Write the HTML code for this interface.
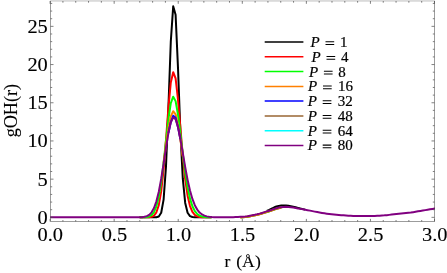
<!DOCTYPE html><html><head><meta charset="utf-8"><style>html,body{margin:0;padding:0;background:#fff}svg{display:block}text{font-family:"Liberation Serif",serif;fill:#000}</style></head><body>
<svg style="will-change:transform" width="447" height="273" viewBox="0 0 447 273">
<rect width="447" height="273" fill="#fff"/>
<rect x="50.10" y="0" width="384.80" height="1.8" fill="#dadada"/>
<defs><clipPath id="c"><rect x="50.10" y="0.00" width="384.90" height="221.50"/></clipPath></defs>
<g clip-path="url(#c)" fill="none" stroke-width="2" stroke-linejoin="round">
<path stroke="#000000" d="M139.60,217.35L142.00,217.35L144.40,217.35L146.80,217.35L149.20,217.35L151.60,217.35L154.00,217.34L156.40,217.22L158.80,216.46L161.20,212.74L163.60,199.62L166.00,166.37L168.40,107.81L170.80,41.48L173.20,6.36L175.60,14.70L178.00,67.87L180.40,132.30L182.80,178.70L185.20,202.89L187.60,212.78L190.00,216.10L192.40,217.05L194.80,217.28L197.20,217.34L199.60,217.35L202.00,217.35L204.40,217.35L206.80,217.35L209.20,217.35L211.60,217.35M266.80,210.90L269.20,209.94L271.60,208.76L274.00,207.53L276.40,206.51L278.80,205.93L281.20,205.57L283.60,205.43L286.00,205.56L288.40,205.85L290.80,206.24L293.20,206.67L295.60,207.19L298.00,207.88L300.40,208.52L302.80,209.10L305.20,209.65"/>
<path stroke="#ff0000" d="M139.60,217.35L142.00,217.35L144.40,217.34L146.80,217.31L149.20,217.19L151.60,216.78L154.00,215.53L156.40,212.29L158.80,205.09L161.20,191.38L163.60,169.32L166.00,139.76L168.40,107.88L170.80,82.47L173.20,72.21L175.60,78.45L178.00,99.44L180.40,127.89L182.80,156.17L185.20,179.33L187.60,195.73L190.00,206.02L192.40,211.84L194.80,214.85L197.20,216.29L199.60,216.92L202.00,217.19L204.40,217.29L206.80,217.33L209.20,217.34L211.60,217.35M240.40,217.43L242.80,217.28L245.20,217.04L247.60,216.71L250.00,216.31L252.40,215.86L254.80,215.39L257.20,214.85L259.60,214.21L262.00,213.49L264.40,212.74L266.80,211.99L269.20,211.26L271.60,210.44L274.00,209.59L276.40,208.80L278.80,208.17L281.20,207.78"/>
<path stroke="#00ff00" d="M139.60,217.34L142.00,217.32L144.40,217.24L146.80,217.01L149.20,216.41L151.60,215.00L154.00,212.03L156.40,206.36L158.80,196.74L161.20,182.22L163.60,162.92L166.00,140.70L168.40,119.24L170.80,103.22L173.20,96.68L175.60,101.13L178.00,114.66L180.40,133.57L182.80,153.86L185.20,172.41L187.60,187.48L190.00,198.62L192.40,206.23L194.80,211.06L197.20,213.96L199.60,215.60L202.00,216.48L204.40,216.93L206.80,217.16L209.20,217.26L211.60,217.31M240.40,217.36L242.80,217.20L245.20,216.96L247.60,216.64L250.00,216.24L252.40,215.79L254.80,215.31L257.20,214.78L259.60,214.13L262.00,213.41L264.40,212.66L266.80,211.92L269.20,211.19L271.60,210.36L274.00,209.51L276.40,208.72L278.80,208.09L281.20,207.71"/>
<path stroke="#ff8000" d="M163.60,162.95L166.00,145.01L168.40,128.43L170.80,116.31L173.20,111.22L175.60,114.35L178.00,124.72L180.40,139.70L182.80,156.33M240.40,217.28L242.80,217.12L245.20,216.89L247.60,216.56L250.00,216.16L252.40,215.71L254.80,215.24L257.20,214.70L259.60,214.06L262.00,213.34L264.40,212.59L266.80,211.84L269.20,211.11L271.60,210.29L274.00,209.43L276.40,208.65L278.80,208.01L281.20,207.63"/>
<path stroke="#0000ff" d="M168.40,133.09L170.80,122.29L173.20,115.74L175.60,117.80L178.00,127.13L180.40,139.06"/>
<path stroke="#996633" d=""/>
<path stroke="#00ffff" d=""/>
<path stroke="#800080" d="M48.40,217.35L50.80,217.35L53.20,217.35L55.60,217.35L58.00,217.35L60.40,217.35L62.80,217.35L65.20,217.35L67.60,217.35L70.00,217.35L72.40,217.35L74.80,217.35L77.20,217.35L79.60,217.35L82.00,217.35L84.40,217.35L86.80,217.35L89.20,217.35L91.60,217.35L94.00,217.35L96.40,217.35L98.80,217.35L101.20,217.35L103.60,217.35L106.00,217.35L108.40,217.35L110.80,217.35L113.20,217.35L115.60,217.35L118.00,217.35L120.40,217.35L122.80,217.35L125.20,217.35L127.60,217.35L130.00,217.35L132.40,217.35L134.80,217.34L137.20,217.32L139.60,217.27L142.00,217.14L144.40,216.83L146.80,216.16L149.20,214.82L151.60,212.33L154.00,208.07L156.40,201.36L158.80,191.67L161.20,178.93L163.60,163.78L166.00,147.75L168.40,133.09L170.80,122.29L173.20,117.42L175.60,119.32L178.00,127.13L180.40,139.06L182.80,153.01L185.20,167.07L187.60,179.85L190.00,190.55L192.40,198.95L194.80,205.17L197.20,209.56L199.60,212.52L202.00,214.44L204.40,215.64L206.80,216.37L209.20,216.80L211.60,217.05L214.00,217.19L216.40,217.26L218.80,217.30L221.20,217.32L223.60,217.31L226.00,217.30L228.40,217.28L230.80,217.25L233.20,217.19L235.60,217.11L238.00,216.99L240.40,216.86L242.80,216.70L245.20,216.47L247.60,216.14L250.00,215.74L252.40,215.29L254.80,214.82L257.20,214.28L259.60,213.64L262.00,212.92L264.40,212.17L266.80,211.42L269.20,210.69L271.60,209.87L274.00,209.01L276.40,208.22L278.80,207.59L281.20,207.21L283.60,206.95L286.00,206.85L288.40,206.97L290.80,207.26L293.20,207.60L295.60,207.97L298.00,208.42L300.40,208.87L302.80,209.30L305.20,209.73L307.60,210.17L310.00,210.64L312.40,211.13L314.80,211.61L317.20,212.07L319.60,212.49L322.00,212.90L324.40,213.31L326.80,213.69L329.20,214.03L331.60,214.33L334.00,214.58L336.40,214.81L338.80,215.02L341.20,215.21L343.60,215.37L346.00,215.51L348.40,215.65L350.80,215.78L353.20,215.88L355.60,215.95L358.00,215.97L360.40,215.97L362.80,215.97L365.20,215.97L367.60,215.97L370.00,215.97L372.40,215.96L374.80,215.89L377.20,215.79L379.60,215.66L382.00,215.52L384.40,215.36L386.80,215.14L389.20,214.88L391.60,214.59L394.00,214.29L396.40,214.03L398.80,213.79L401.20,213.57L403.60,213.34L406.00,213.10L408.40,212.82L410.80,212.51L413.20,212.14L415.60,211.74L418.00,211.33L420.40,210.92L422.80,210.52L425.20,210.12L427.60,209.71L430.00,209.30L432.40,208.90L434.80,208.52L437.20,208.14"/>
</g>
<g fill="none" stroke="#4a4a4a" stroke-width="0.55">
<path d="M50.5,1 V221.50 H434.5 V1"/>
<path stroke-width="0.7" d="M50.10,221.50 v-2.60 M50.10,1.00 v2.80 M62.91,221.50 v-1.50 M62.91,1.00 v1.70 M75.73,221.50 v-1.50 M75.73,1.00 v1.70 M88.54,221.50 v-1.50 M88.54,1.00 v1.70 M101.35,221.50 v-1.50 M101.35,1.00 v1.70 M114.17,221.50 v-2.60 M114.17,1.00 v2.80 M126.98,221.50 v-1.50 M126.98,1.00 v1.70 M139.79,221.50 v-1.50 M139.79,1.00 v1.70 M152.61,221.50 v-1.50 M152.61,1.00 v1.70 M165.42,221.50 v-1.50 M165.42,1.00 v1.70 M178.23,221.50 v-2.60 M178.23,1.00 v2.80 M191.05,221.50 v-1.50 M191.05,1.00 v1.70 M203.86,221.50 v-1.50 M203.86,1.00 v1.70 M216.67,221.50 v-1.50 M216.67,1.00 v1.70 M229.49,221.50 v-1.50 M229.49,1.00 v1.70 M242.30,221.50 v-2.60 M242.30,1.00 v2.80 M255.11,221.50 v-1.50 M255.11,1.00 v1.70 M267.93,221.50 v-1.50 M267.93,1.00 v1.70 M280.74,221.50 v-1.50 M280.74,1.00 v1.70 M293.55,221.50 v-1.50 M293.55,1.00 v1.70 M306.37,221.50 v-2.60 M306.37,1.00 v2.80 M319.18,221.50 v-1.50 M319.18,1.00 v1.70 M331.99,221.50 v-1.50 M331.99,1.00 v1.70 M344.81,221.50 v-1.50 M344.81,1.00 v1.70 M357.62,221.50 v-1.50 M357.62,1.00 v1.70 M370.43,221.50 v-2.60 M370.43,1.00 v2.80 M383.25,221.50 v-1.50 M383.25,1.00 v1.70 M396.06,221.50 v-1.50 M396.06,1.00 v1.70 M408.87,221.50 v-1.50 M408.87,1.00 v1.70 M421.69,221.50 v-1.50 M421.69,1.00 v1.70 M434.50,221.50 v-2.60 M434.50,1.00 v2.80 M50.50,217.35 h3.00 M434.50,217.35 h-3.00 M50.50,209.71 h1.70 M434.50,209.71 h-1.70 M50.50,202.07 h1.70 M434.50,202.07 h-1.70 M50.50,194.43 h1.70 M434.50,194.43 h-1.70 M50.50,186.79 h1.70 M434.50,186.79 h-1.70 M50.50,179.15 h3.00 M434.50,179.15 h-3.00 M50.50,171.51 h1.70 M434.50,171.51 h-1.70 M50.50,163.87 h1.70 M434.50,163.87 h-1.70 M50.50,156.23 h1.70 M434.50,156.23 h-1.70 M50.50,148.59 h1.70 M434.50,148.59 h-1.70 M50.50,140.95 h3.00 M434.50,140.95 h-3.00 M50.50,133.31 h1.70 M434.50,133.31 h-1.70 M50.50,125.67 h1.70 M434.50,125.67 h-1.70 M50.50,118.03 h1.70 M434.50,118.03 h-1.70 M50.50,110.39 h1.70 M434.50,110.39 h-1.70 M50.50,102.75 h3.00 M434.50,102.75 h-3.00 M50.50,95.11 h1.70 M434.50,95.11 h-1.70 M50.50,87.47 h1.70 M434.50,87.47 h-1.70 M50.50,79.83 h1.70 M434.50,79.83 h-1.70 M50.50,72.19 h1.70 M434.50,72.19 h-1.70 M50.50,64.55 h3.00 M434.50,64.55 h-3.00 M50.50,56.91 h1.70 M434.50,56.91 h-1.70 M50.50,49.27 h1.70 M434.50,49.27 h-1.70 M50.50,41.63 h1.70 M434.50,41.63 h-1.70 M50.50,33.99 h1.70 M434.50,33.99 h-1.70 M50.50,26.35 h3.00 M434.50,26.35 h-3.00 M50.50,18.71 h1.70 M434.50,18.71 h-1.70 M50.50,11.07 h1.70 M434.50,11.07 h-1.70 M50.50,3.43 h1.70 M434.50,3.43 h-1.70"/>
</g>
<g font-size="19" text-anchor="middle" stroke="#000" stroke-width="0.12">
<text transform="translate(50.3,241.1) scale(1.075,1)">0.0</text>
<text transform="translate(114.4,241.1) scale(1.075,1)">0.5</text>
<text transform="translate(178.4,241.1) scale(1.075,1)">1.0</text>
<text transform="translate(242.5,241.1) scale(1.075,1)">1.5</text>
<text transform="translate(306.6,241.1) scale(1.075,1)">2.0</text>
<text transform="translate(370.6,241.1) scale(1.075,1)">2.5</text>
<text transform="translate(434.7,241.1) scale(1.075,1)">3.0</text>
</g>
<g font-size="19" text-anchor="end" stroke="#000" stroke-width="0.12">
<text transform="translate(47.8,223.8) scale(1.075,1)">0</text>
<text transform="translate(47.8,185.7) scale(1.075,1)">5</text>
<text transform="translate(47.8,147.4) scale(1.075,1)">10</text>
<text transform="translate(47.8,109.2) scale(1.075,1)">15</text>
<text transform="translate(47.8,71.1) scale(1.075,1)">20</text>
<text transform="translate(47.8,32.8) scale(1.075,1)">25</text>
</g>
<g font-size="17.6" stroke="#000" stroke-width="0.12"><text x="224.5" y="267.4">r</text><text x="236.2" y="267.4">(</text><text x="241.9" y="267.4">A</text><text x="255.0" y="267.4">)</text></g>
<circle cx="247.9" cy="256.0" r="1.5" fill="#fff" stroke="#000" stroke-width="0.8"/>
<text font-size="18.2" text-anchor="middle" stroke="#000" stroke-width="0.12" transform="translate(16.5,110.6) rotate(-90)">gOH(r)</text>
<g stroke-width="1.5" fill="none">
<path stroke="#000000" d="M264.7,42.0 H303.4"/>
<path stroke="#ff0000" d="M264.7,56.8 H303.4"/>
<path stroke="#00ff00" d="M264.7,71.6 H303.4"/>
<path stroke="#ff8000" d="M264.7,86.4 H303.4"/>
<path stroke="#0000ff" d="M264.7,101.1 H303.4"/>
<path stroke="#996633" d="M264.7,115.9 H303.4"/>
<path stroke="#00ffff" d="M264.7,130.7 H303.4"/>
<path stroke="#800080" d="M264.7,145.5 H303.4"/>
</g>
<g font-size="15" stroke="#000" stroke-width="0.2">
<text x="310.6" y="47.0" font-style="italic">P</text><text x="339.9" y="47.0">1</text>
<text x="311.6" y="61.8" font-style="italic">P</text><text x="340.9" y="61.8">4</text>
<text x="309.0" y="76.5" font-style="italic">P</text><text x="338.3" y="76.5">8</text>
<text x="308.1" y="91.3" font-style="italic">P</text><text x="338.0" y="91.3">16</text>
<text x="307.8" y="106.0" font-style="italic">P</text><text x="337.7" y="106.0">32</text>
<text x="307.8" y="120.8" font-style="italic">P</text><text x="337.7" y="120.8">48</text>
<text x="307.8" y="135.5" font-style="italic">P</text><text x="337.7" y="135.5">64</text>
<text x="307.8" y="150.3" font-style="italic">P</text><text x="337.7" y="150.3">80</text>
</g>
<path stroke="#000" stroke-width="1.05" fill="none" d="M325.5,41.80 h8.7 M325.5,44.50 h8.7 M326.5,56.56 h8.7 M326.5,59.26 h8.7 M323.9,71.31 h8.7 M323.9,74.01 h8.7 M323.0,86.07 h8.7 M323.0,88.77 h8.7 M322.7,100.83 h8.7 M322.7,103.53 h8.7 M322.7,115.58 h8.7 M322.7,118.28 h8.7 M322.7,130.34 h8.7 M322.7,133.04 h8.7 M322.7,145.10 h8.7 M322.7,147.80 h8.7"/>
</svg></body></html>
